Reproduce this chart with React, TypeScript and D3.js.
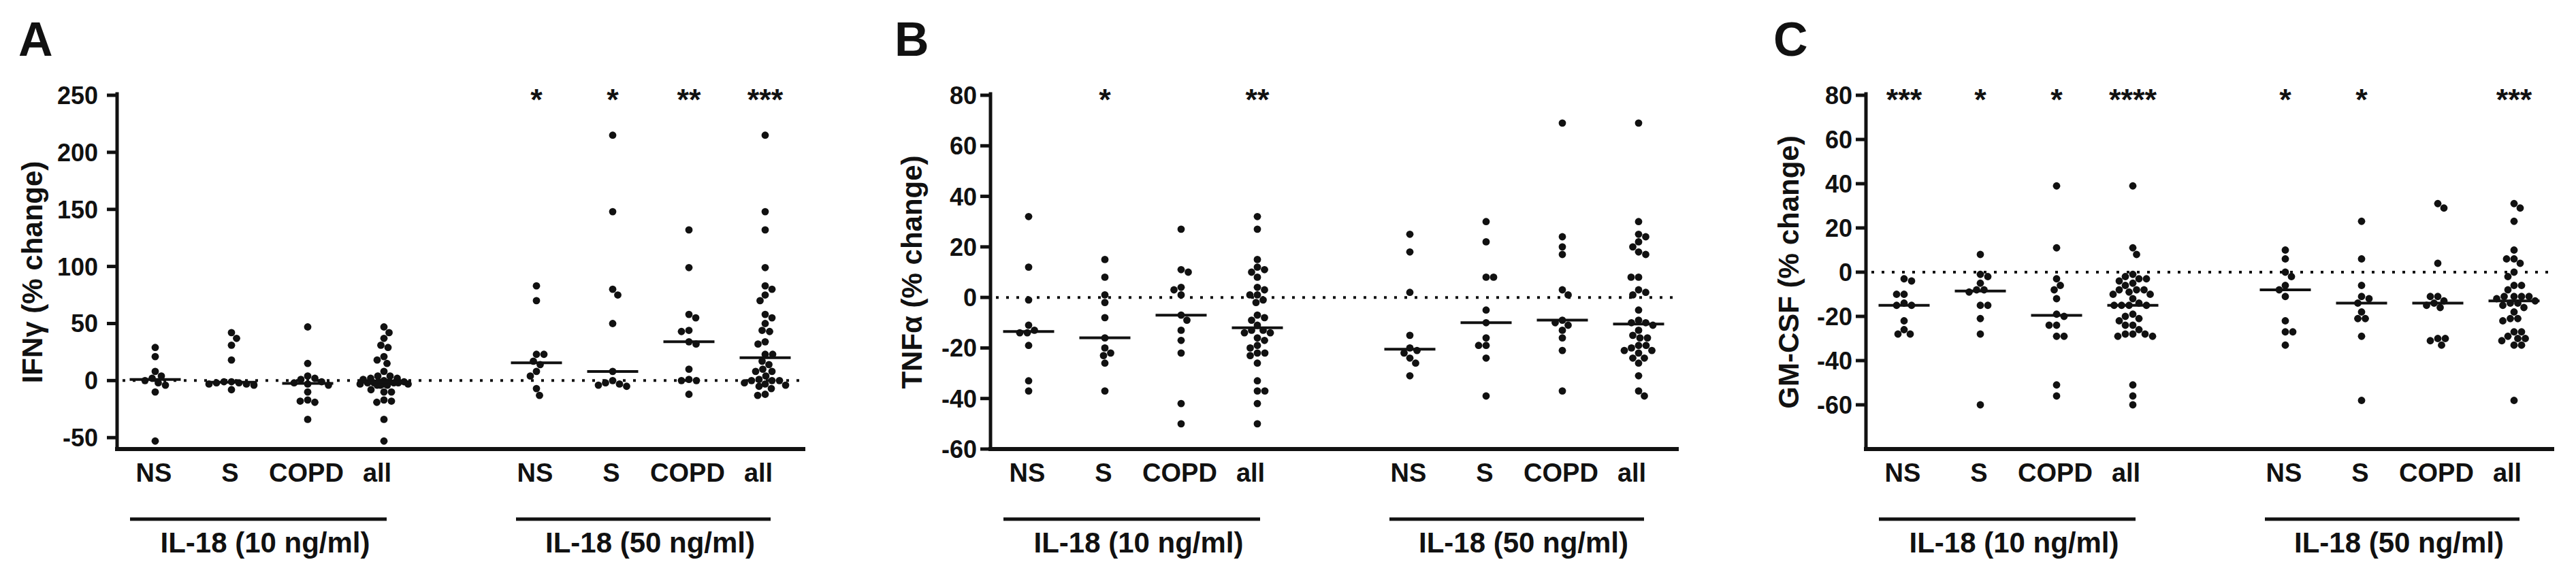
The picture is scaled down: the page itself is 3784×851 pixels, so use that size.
import React from 'react';
import * as d3 from 'd3';

// ---------- categories, groups, labels ----------
const CATEGORIES = ['NS', 'S', 'COPD', 'all'];
const GROUPS = ['IL-18 (10 ng/ml)', 'IL-18 (50 ng/ml)'];
const LETTERS = ['A', 'B', 'C'];
const Y_TITLES = ['IFNγ (% change)', 'TNFα (% change)', 'GM-CSF (% change)'];
const TICKS_A = [250, 200, 150, 100, 50, 0, -50];
const TICKS_B = [80, 60, 40, 20, 0, -20, -40, -60];
const TICKS_C = [80, 60, 40, 20, 0, -20, -40, -60];
const DOMAIN_A = [-60, 250];
const DOMAIN_B = [-60, 80];
const DOMAIN_C = [-80, 80];

// ---------- Panel A: IFNγ (% change) ----------
const IFNG_10_NS = [29, 21, 8, 4, 2, 0, -2, -4, -10, -53];
const IFNG_10_S = [42, 37, 31, 18, -1, -1, -2, -2, -3, -3, -4, -8];
const IFNG_10_COPD = [47, 15, 4, 2, 1, -1, -2, -3, -4, -10, -17, -18, -19, -34];
const IFNG_10_ALL = [47, 42, 37, 31, 29, 21, 18, 15, 8, 4, 4, 2, 2, 1, 0, -1, -1, -1, -2, -2, -2, -2, -3, -3, -3, -4, -4, -4, -8, -10, -10, -17, -18, -19, -34, -53];
const IFNG_50_NS = [83, 70, 23, 23, 17, 14, 8, 4, -7, -13];
const IFNG_50_S = [215, 148, 80, 75, 50, 8, 0, -2, -3, -4, -5];
const IFNG_50_COPD = [132, 99, 58, 55, 44, 43, 34, 32, 10, 1, 0, 0, -12];
const IFNG_50_ALL = [215, 148, 132, 99, 83, 80, 75, 70, 58, 55, 50, 44, 43, 34, 32, 23, 23, 17, 14, 10, 8, 8, 4, 1, 0, 0, 0, -2, -3, -4, -5, -7, -12, -13];

// ---------- Panel B: TNFα (% change) ----------
const TNF_10_NS = [32, 12, -1, -11, -13, -14, -14, -19, -33, -37];
const TNF_10_S = [15, 8, 1, -2, -8, -16, -20, -22, -23, -26, -37];
const TNF_10_COPD = [27, 11, 10, 4, 3, 1, -7, -9, -13, -17, -22, -42, -50];
const TNF_10_ALL = [32, 27, 15, 12, 11, 10, 8, 4, 3, 1, 1, -1, -2, -7, -8, -9, -11, -13, -13, -14, -14, -16, -17, -19, -20, -22, -22, -23, -26, -33, -37, -37, -42, -50];
const TNF_50_NS = [25, 18, 2, -15, -20, -21, -22, -24, -26, -31];
const TNF_50_S = [30, 22, 8, 8, -5, -10, -16, -19, -19, -24, -39];
const TNF_50_COPD = [69, 24, 20, 17, 3, 1, -9, -10, -11, -13, -16, -21, -37];
const TNF_50_ALL = [69, 30, 25, 24, 22, 20, 18, 17, 8, 8, 3, 2, 1, -5, -9, -10, -10, -11, -13, -15, -16, -16, -19, -19, -20, -21, -21, -22, -24, -24, -26, -31, -37, -39];

// ---------- Panel C: GM-CSF (% change) ----------
const GM_10_NS = [-3, -4, -10, -10, -14, -15, -15, -22, -26, -28, -28];
const GM_10_S = [8, -1, -2, -5, -8, -8, -9, -15, -15, -21, -28, -60];
const GM_10_COPD = [39, 11, -3, -6, -8, -12, -19, -20, -24, -24, -29, -29, -51, -56];
const GM_10_ALL = [39, 11, 8, -1, -2, -3, -3, -4, -5, -6, -8, -8, -8, -9, -10, -10, -12, -14, -15, -15, -15, -15, -19, -20, -21, -22, -24, -24, -26, -28, -28, -28, -29, -29, -51, -56, -60];
const GM_50_NS = [10, 6, 0, -2, -6, -8, -11, -22, -27, -27, -33];
const GM_50_S = [23, 6, -6, -11, -12, -14, -18, -21, -21, -29, -58];
const GM_50_COPD = [31, 29, 4, -11, -11, -13, -14, -15, -16, -30, -30, -31, -33];
const GM_50_ALL = [31, 29, 23, 10, 6, 6, 4, 0, -2, -6, -6, -8, -11, -11, -11, -11, -12, -13, -14, -14, -15, -16, -18, -21, -21, -22, -27, -27, -29, -30, -30, -31, -33, -33, -58];

// ---------- significance marks ----------
const SIG_A_10 = ['', '', '', ''];
const SIG_A_50 = ['*', '*', '**', '***'];
const SIG_B_10 = ['', '*', '', '**'];
const SIG_B_50 = ['', '', '', ''];
const SIG_C_10 = ['***', '*', '*', '****'];
const SIG_C_50 = ['*', '*', '', '***'];

// ---------- table built from the arrays ----------
const PANELS = [
  { ticks: TICKS_A, domain: DOMAIN_A, groups: [[IFNG_10_NS, IFNG_10_S, IFNG_10_COPD, IFNG_10_ALL], [IFNG_50_NS, IFNG_50_S, IFNG_50_COPD, IFNG_50_ALL]], sig: [SIG_A_10, SIG_A_50] },
  { ticks: TICKS_B, domain: DOMAIN_B, groups: [[TNF_10_NS, TNF_10_S, TNF_10_COPD, TNF_10_ALL], [TNF_50_NS, TNF_50_S, TNF_50_COPD, TNF_50_ALL]], sig: [SIG_B_10, SIG_B_50] },
  { ticks: TICKS_C, domain: DOMAIN_C, groups: [[GM_10_NS, GM_10_S, GM_10_COPD, GM_10_ALL], [GM_50_NS, GM_50_S, GM_50_COPD, GM_50_ALL]], sig: [SIG_C_10, SIG_C_50] },
];

// ---------- layout ----------
const W = 3784;
const H = 851;
const AXIS_X = [172, 1455, 2741];
const LETTER_X = [27, 1314, 2605];
const YTITLE_OFFSET = [110, 101, 99];
const TICKLABEL_GAP = [28, 20, 20];
const SLOT = 112;
const Y_TOP = 140;
const Y_BOTTOM = 660;
const FONT = "'Liberation Sans', Arial, Helvetica, sans-serif";
const INK = '#111';
const DOT_R = 5.4;
const MAX_SPREAD = 36;
const GROUP_LINE = [[-37, 4], [-30, 8]];

type Pt = { x: number; y: number };

function swarm(vals: number[], cx: number, ys: (v: number) => number, diam: number): Pt[] {
  const sorted = [...vals].sort((a, b) => b - a);
  const placed: Pt[] = [];
  let flip = false;
  for (const v of sorted) {
    const yy = ys(v);
    let found: number | null = null;
    // try full spacing first, then progressively allow overlap, within a capped spread
    for (let dd = diam; dd >= 2 && found === null; dd -= 1.5) {
      for (let k = 0; k <= MAX_SPREAD * 2 && found === null; k++) {
        const d = k * 0.5;
        const cands = k === 0 ? [0] : flip ? [-d, d] : [d, -d];
        for (const off of cands) {
          const x = cx + off;
          if (placed.every(p => (p.x - x) * (p.x - x) + (p.y - yy) * (p.y - yy) >= dd * dd)) {
            found = x;
            break;
          }
        }
      }
    }
    const fx = found === null ? cx : found;
    if (fx !== cx) flip = !flip;
    placed.push({ x: fx, y: yy });
  }
  return placed;
}

function Panel({ idx }: { idx: number }) {
  const p = PANELS[idx];
  const ax = AXIS_X[idx];
  const x = d3.scaleLinear().domain([-0.5, 8.5]).range([ax, ax + 9 * SLOT]);
  const y = d3.scaleLinear().domain(p.domain).range([Y_BOTTOM, Y_TOP]);
  const slotOf = (g: number, c: number) => g * 5 + c;
  const xEnd = x(8.5);

  return (
    <g>
      <text x={LETTER_X[idx]} y={82} fontSize={70} fontWeight="bold" fontFamily={FONT} fill={INK}>
        {LETTERS[idx]}
      </text>
      <text
        transform={`translate(${ax - YTITLE_OFFSET[idx]},${(Y_TOP + Y_BOTTOM) / 2}) rotate(-90)`}
        textAnchor="middle"
        fontSize={42}
        fontWeight="bold"
        fontFamily={FONT}
        fill={INK}
      >
        {Y_TITLES[idx]}
      </text>
      <line x1={ax + 8} x2={xEnd - 4} y1={y(0)} y2={y(0)} stroke={INK} strokeWidth={4} strokeDasharray="4 11" />
      <line x1={ax} x2={ax} y1={Y_TOP - 2} y2={Y_BOTTOM} stroke={INK} strokeWidth={5} strokeLinecap="square" />
      {p.ticks.map(t => (
        <g key={t}>
          <line x1={ax - 15} x2={ax} y1={y(t)} y2={y(t)} stroke={INK} strokeWidth={5} />
          <text
            x={ax - TICKLABEL_GAP[idx]}
            y={y(t)}
            dy="0.36em"
            textAnchor="end"
            fontSize={36}
            fontWeight="bold"
            fontFamily={FONT}
            fill={INK}
          >
            {t}
          </text>
        </g>
      ))}
      <line x1={ax} x2={xEnd} y1={Y_BOTTOM} y2={Y_BOTTOM} stroke={INK} strokeWidth={6} strokeLinecap="square" />

      {p.groups.map((grp, g) => (
        <g key={g}>
          {grp.map((vals, c) => {
            const cx = x(slotOf(g, c));
            const pts = swarm(vals, cx, y, 11);
            const med = d3.median(vals) as number;
            return (
              <g key={c}>
                {pts.map((pt, i) => (
                  <circle key={i} cx={pt.x} cy={pt.y} r={DOT_R} fill={INK} />
                ))}
                <line x1={cx - 37.5} x2={cx + 37.5} y1={y(med)} y2={y(med)} stroke={INK} strokeWidth={4} />
                <text
                  x={cx + (CATEGORIES[c] === 'all' ? -10 : -2)}
                  y={708}
                  textAnchor="middle"
                  fontSize={38}
                  fontWeight="bold"
                  fontFamily={FONT}
                  fill={INK}
                >
                  {CATEGORIES[c]}
                </text>
                {p.sig[g][c] && (
                  <text
                    x={cx}
                    y={162}
                    textAnchor="middle"
                    fontSize={45}
                    fontWeight="bold"
                    fontFamily={FONT}
                    fill={INK}
                  >
                    {p.sig[g][c]}
                  </text>
                )}
              </g>
            );
          })}
          {(() => {
            const x1 = x(slotOf(g, 0)) + GROUP_LINE[g][0];
            const x2 = x(slotOf(g, 3)) + GROUP_LINE[g][1];
            return (
              <g>
                <line x1={x1} x2={x2} y1={763} y2={763} stroke={INK} strokeWidth={5} />
                <text
                  x={(x1 + x2) / 2 + 10}
                  y={812}
                  textAnchor="middle"
                  fontSize={42}
                  fontWeight="bold"
                  fontFamily={FONT}
                  fill={INK}
                >
                  {GROUPS[g]}
                </text>
              </g>
            );
          })()}
        </g>
      ))}
    </g>
  );
}

export default function App() {
  return (
    <svg
      width={W}
      height={H}
      viewBox={`0 0 ${W} ${H}`}
      style={{ position: 'absolute', left: 0, top: 0, background: '#fff' }}
    >
      <rect x={0} y={0} width={W} height={H} fill="#fff" />
      {LETTERS.map((_, i) => (
        <Panel key={i} idx={i} />
      ))}
    </svg>
  );
}
